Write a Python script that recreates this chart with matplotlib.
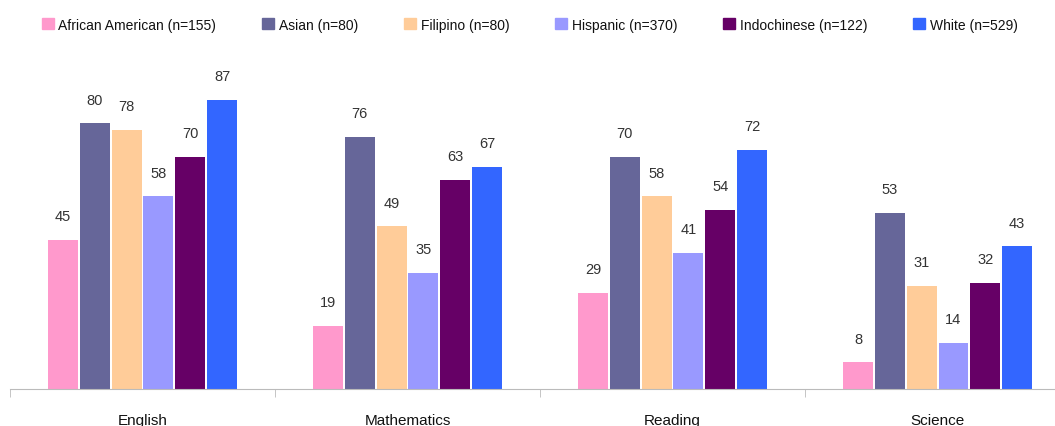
import numpy as np
import matplotlib.pyplot as plt
from matplotlib.patches import Patch

plt.rcParams['font.family'] = ['Liberation Sans', 'DejaVu Sans']

subjects = ['English', 'Mathematics', 'Reading', 'Science']
groups = ['African American (n=155)', 'Asian (n=80)', 'Filipino (n=80)',
          'Hispanic (n=370)', 'Indochinese (n=122)', 'White (n=529)']
colors = ['#FF99CC', '#666699', '#FFCC99', '#9999FF', '#660066', '#3366FF']

african_american = [45, 19, 29, 8]
asian = [80, 76, 70, 53]
filipino = [78, 49, 58, 31]
hispanic = [58, 35, 41, 14]
indochinese = [70, 63, 54, 32]
white = [87, 67, 72, 43]
series = [african_american, asian, filipino, hispanic, indochinese, white]

fig = plt.figure(figsize=(10.55, 4.27), dpi=100)
ax = fig.add_axes([10/1055, 37/427, 1045/1055, 332/427])

x = np.arange(len(subjects))
step = 0.12
width = 0.113
for i, (vals, c) in enumerate(zip(series, colors)):
    pos = x + (i - 2.5) * step
    ax.bar(pos, vals, width, color=c)
    for p, v in zip(pos, vals):
        ax.annotate(str(v), (p, v), xytext=(0, 12), textcoords='offset points',
                    ha='center', va='bottom', fontsize=10.5, color='#333333')

ax.set_ylim(0, 100)
ax.set_xlim(-0.5, 3.443)
ax.set_yticks([])
for s in ['top', 'right', 'left']:
    ax.spines[s].set_visible(False)
ax.spines['bottom'].set_color('#BBBBBB')
ax.set_xticks(x)
ax.set_xticklabels(subjects, fontsize=11, color='#111111')
ax.tick_params(axis='x', which='major', length=0, pad=17)
ax.set_xticks(np.arange(-0.5, 3.5, 1.0), minor=True)
ax.tick_params(axis='x', which='minor', length=6, color='#BBBBBB')

handles = [Patch(color=c, label=g) for g, c in zip(groups, colors)]
fig.legend(handles=handles, loc='center', bbox_to_anchor=(0.502, 0.94), ncol=6,
           frameon=False, fontsize=10, handlelength=0.85, handleheight=0.85,
           handletextpad=0.35, columnspacing=3.3, labelcolor='#111111')

fig.savefig('out.png', dpi=100)
